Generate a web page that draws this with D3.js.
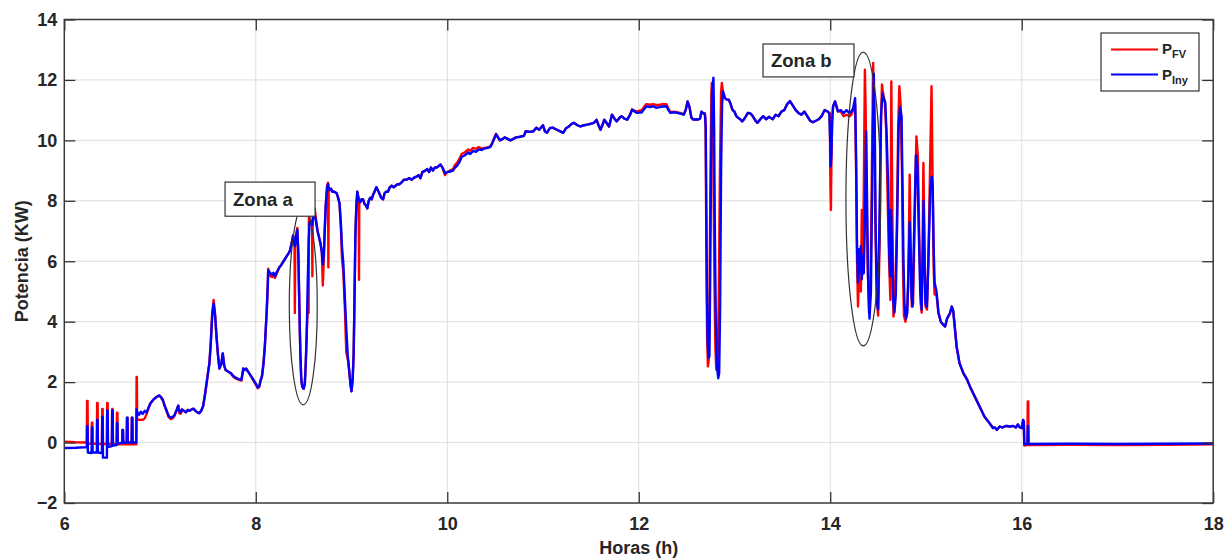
<!DOCTYPE html>
<html>
<head>
<meta charset="utf-8">
<script src="https://cdn.jsdelivr.net/npm/d3@7"></script>
<style>
  html, body { margin: 0; padding: 0; background: #fff; }
  svg { display: block; }
  text { font-family: "Liberation Sans", Arial, Helvetica, sans-serif; font-weight: bold; fill: #262626; }
</style>
</head>
<body>
<svg id="chart" width="1231" height="559"></svg>
<script>
// Axis ticks
const ticksX = [6, 8, 10, 12, 14, 16, 18];
const ticksY = [-2, 0, 2, 4, 6, 8, 10, 12, 14];

// Injected power, [hour, kW]
const pIny = [
  [6.00,-0.18],[6.12,-0.17],[6.235,-0.15],[6.238,0.55],[6.243,0.55],[6.246,-0.33],[6.285,-0.35],[6.288,0.5],[6.293,0.5],[6.296,-0.32],
  [6.34,-0.33],[6.343,0.75],[6.348,0.75],[6.351,-0.33],[6.393,-0.35],[6.396,0.85],[6.401,0.85],[6.404,-0.5],[6.445,-0.5],[6.448,1.06],
  [6.453,1.06],[6.456,-0.15],[6.497,-0.12],[6.5,1.06],[6.505,1.06],[6.508,-0.1],[6.547,-0.08],[6.55,0.65],[6.555,0.65],[6.558,-0.04],
  [6.605,0.0],[6.608,0.42],[6.613,0.42],[6.616,0.0],[6.652,0.0],[6.655,0.82],[6.66,0.82],[6.663,0.0],[6.703,0.0],[6.706,0.82],
  [6.711,0.82],[6.714,0.0],[6.752,0.0],[6.755,1.1],
  [6.76,1.0],[6.78,0.92],[6.80,1.02],[6.82,0.95],[6.84,1.05],[6.86,1.0],[6.88,1.15],[6.90,1.3],[6.93,1.42],[6.96,1.5],
  [6.99,1.56],[7.01,1.5],[7.03,1.4],[7.05,1.2],[7.07,1.05],[7.09,0.88],[7.11,0.82],[7.13,0.85],[7.15,0.9],[7.17,1.05],
  [7.19,1.22],[7.20,1.05],[7.215,1.0],[7.23,1.1],[7.25,1.05],[7.27,1.0],[7.29,1.08],[7.31,1.05],[7.33,1.1],[7.35,1.12],
  [7.37,1.05],[7.39,1.0],[7.41,0.97],[7.43,1.05],[7.45,1.2],[7.47,1.6],[7.49,2.05],[7.505,2.4],[7.515,2.6],[7.53,3.3],
  [7.545,4.2],[7.56,4.6],[7.575,4.2],[7.59,3.5],[7.605,2.9],[7.62,2.45],[7.64,2.6],[7.655,2.95],[7.67,2.55],[7.685,2.4],
  [7.71,2.35],[7.74,2.3],[7.765,2.2],[7.79,2.15],[7.82,2.1],[7.85,2.08],[7.87,2.45],[7.885,2.4],[7.90,2.45],[7.92,2.35],
  [7.95,2.2],[7.975,2.08],[8.0,1.95],[8.02,1.82],[8.035,1.85],[8.05,2.05],[8.065,2.2],[8.08,2.6],[8.095,3.2],[8.105,3.8],
  [8.115,4.4],[8.125,5.2],[8.13,5.7],
  [8.14,5.65],[8.155,5.6],[8.17,5.55],[8.185,5.62],[8.2,5.5],[8.215,5.62],[8.23,5.7],[8.245,5.8],[8.26,5.85],[8.28,5.95],
  [8.30,6.05],[8.32,6.15],[8.34,6.25],[8.357,6.35],[8.375,6.6],[8.39,6.85],[8.40,6.6],[8.41,6.5],[8.42,6.8],[8.434,7.04],
  [8.445,6.2],[8.455,4.5],[8.465,3.0],[8.475,2.1],[8.485,1.85],[8.50,1.78],[8.512,1.95],[8.522,2.6],[8.532,3.6],[8.542,5.2],
  [8.552,6.6],[8.562,7.3],[8.575,7.25],[8.59,7.2],[8.60,7.5],[8.615,7.55],[8.63,7.3],[8.645,7.0],[8.66,6.8],[8.675,6.6],
  [8.69,6.3],[8.70,5.9],[8.71,6.2],[8.72,7.0],[8.73,7.8],[8.745,8.45],[8.755,8.55],[8.77,8.35],[8.785,8.4],[8.80,8.3],
  [8.82,8.3],[8.845,8.25],[8.86,8.1],[8.875,7.9],[8.89,7.2],[8.90,6.5],[8.915,5.9],[8.93,4.8],[8.945,3.8],[8.96,2.9],
  [8.975,2.4],[8.99,1.9],[9.0,1.7],[9.012,2.1],[9.022,2.9],[9.03,4.5],[9.04,6.8],[9.05,7.8],[9.06,8.3],[9.075,8.05],
  [9.09,7.95],[9.105,8.05],[9.12,8.05],[9.135,7.9],[9.15,7.85],[9.165,7.75],[9.18,8.0],[9.195,8.1],[9.21,8.05],[9.225,8.2],
  [9.24,8.3],[9.26,8.45],[9.275,8.35],[9.29,8.25],[9.31,8.1],[9.33,8.05],[9.345,8.25],[9.36,8.3],[9.38,8.3],[9.40,8.45],
  [9.42,8.5],[9.44,8.45],[9.46,8.5],[9.48,8.55],[9.50,8.55],
  [9.52,8.6],[9.55,8.7],[9.576,8.7],[9.60,8.75],[9.63,8.7],[9.66,8.78],[9.68,8.8],[9.70,8.85],[9.72,8.75],[9.74,8.95],
  [9.77,9.0],[9.79,9.05],[9.81,8.95],[9.83,9.1],[9.85,9.0],[9.87,9.1],[9.89,9.1],[9.91,9.15],[9.93,9.2],[9.95,9.1],
  [9.976,8.92],[10.0,8.95],[10.03,8.97],[10.06,9.0],[10.08,9.1],[10.1,9.15],[10.13,9.3],[10.15,9.45],[10.18,9.5],[10.2,9.55],
  [10.22,9.6],[10.24,9.55],[10.27,9.65],[10.3,9.62],[10.33,9.7],[10.36,9.68],[10.38,9.72],[10.42,9.75],[10.45,9.78],[10.47,9.9],
  [10.49,10.05],[10.51,10.2],[10.53,10.1],[10.55,10.0],[10.58,10.05],[10.6,10.1],[10.63,10.05],[10.66,10.0],[10.69,10.05],[10.72,10.1],
  [10.76,10.12],[10.8,10.15],[10.82,10.3],[10.86,10.28],[10.9,10.3],[10.93,10.42],[10.96,10.35],[11.0,10.5],[11.02,10.3],[11.04,10.25],
  [11.07,10.4],[11.1,10.42],[11.14,10.36],[11.18,10.3],[11.21,10.25],[11.24,10.4],[11.27,10.46],[11.3,10.55],[11.32,10.58],[11.36,10.5],
  [11.39,10.46],[11.43,10.5],[11.46,10.52],[11.5,10.55],[11.53,10.58],[11.56,10.68],[11.58,10.5],[11.6,10.35],[11.62,10.5],[11.64,10.68],
  [11.67,10.55],[11.69,10.46],[11.72,10.85],[11.75,10.7],[11.77,10.63],[11.8,10.75],[11.82,10.8],[11.85,10.72],[11.88,10.69],[11.91,10.85],
  [11.93,11.02],[11.96,10.95],[11.98,10.91],[12.01,10.92],[12.03,10.92],[12.06,11.05],[12.08,11.13],[12.12,11.1],[12.15,11.13],[12.18,11.08],
  [12.22,11.1],[12.25,11.12],[12.29,11.13],[12.31,11.0],[12.33,10.91],[12.37,10.93],[12.4,10.91],[12.44,10.88],[12.47,10.85],[12.49,11.0],
  [12.51,11.29],[12.53,11.1],[12.55,10.75],[12.57,10.69],[12.6,10.7],[12.62,10.69],[12.64,10.72],[12.655,10.95],[12.67,10.9],[12.69,10.88],
  [12.70,10.4],[12.705,8.0],[12.712,5.0],[12.72,3.3],[12.73,2.8],[12.738,2.85],[12.745,5.0],[12.755,9.0],[12.765,11.5],[12.775,11.9],
  [12.78,12.07],[12.787,10.5],[12.795,7.0],[12.805,4.0],[12.815,2.6],[12.83,2.13],[12.84,2.3],[12.85,4.5],[12.86,9.0],[12.87,11.2],
  [12.88,11.62],[12.9,11.4],[12.92,11.35],[12.94,11.35],[12.96,11.2],[12.98,11.0],[13.0,10.95],[13.02,10.8],[13.04,10.74],[13.06,10.7],
  [13.08,10.63],[13.1,10.7],[13.12,10.8],[13.14,10.91],[13.16,10.9],[13.18,10.85],[13.2,10.75],[13.22,10.65],[13.24,10.58],
  [13.27,10.7],[13.3,10.8],[13.33,10.7],[13.36,10.78],[13.4,10.7],[13.43,10.85],[13.46,10.8],[13.49,10.95],[13.52,11.0],[13.55,11.2],
  [13.58,11.3],[13.61,11.15],[13.64,11.0],[13.67,10.9],[13.7,10.85],[13.73,10.95],[13.76,10.8],[13.79,10.65],[13.82,10.6],[13.85,10.65],
  [13.88,10.7],[13.91,10.8],[13.94,11.0],[13.97,10.96],[13.99,10.9],[14.0,10.0],[14.005,9.14],[14.012,9.5],[14.02,10.6],[14.03,11.13],
  [14.05,11.29],[14.08,10.96],[14.11,11.0],[14.14,10.9],[14.17,11.0],[14.2,10.9],[14.22,10.95],[14.24,11.07],[14.26,11.4],
  [14.27,9.5],[14.28,6.5],[14.29,5.3],[14.30,6.4],[14.31,5.6],[14.32,6.5],[14.33,5.4],[14.34,6.2],[14.35,5.6],[14.36,7.0],
  [14.375,10.3],[14.385,8.0],[14.395,5.5],[14.41,4.1],[14.425,5.0],[14.44,9.0],[14.455,12.2],[14.465,10.5],[14.475,7.0],[14.49,4.6],
  [14.5,4.4],[14.515,7.5],[14.53,10.8],[14.545,11.55],[14.56,11.35],[14.575,11.25],[14.59,10.1],[14.605,8.5],[14.615,6.5],[14.625,5.5],
  [14.635,7.7],[14.645,6.5],[14.655,4.8],[14.67,4.3],[14.685,4.9],[14.70,7.5],[14.715,10.5],[14.73,11.1],[14.745,10.8],[14.755,8.5],
  [14.765,6.0],[14.775,4.6],[14.79,4.1],[14.805,4.3],[14.815,5.5],[14.83,7.3],[14.84,6.2],[14.85,4.8],[14.86,4.5],[14.875,6.8],
  [14.895,9.5],[14.91,9.2],[14.925,7.0],[14.94,5.0],[14.955,4.4],[14.965,6.0],[14.975,8.0],[14.985,6.0],[14.995,4.6],[15.01,4.5],
  [15.025,6.0],[15.045,8.4],[15.06,8.8],[15.07,8.5],[15.08,6.5],[15.09,5.3],[15.11,5.0],
  [15.13,4.3],[15.155,4.0],[15.18,3.9],[15.2,3.84],[15.22,4.1],[15.25,4.28],[15.27,4.5],[15.285,4.35],[15.3,3.85],[15.32,3.18],
  [15.35,2.63],[15.39,2.3],[15.43,2.08],[15.46,1.85],[15.51,1.52],[15.56,1.19],[15.61,0.86],[15.65,0.7],[15.70,0.48],[15.72,0.5],
  [15.74,0.42],[15.77,0.53],[15.8,0.5],[15.84,0.55],[15.88,0.53],[15.91,0.55],[15.94,0.5],[15.96,0.6],[15.98,0.5],[16.0,0.48],
  [16.015,0.75],[16.022,0.7],[16.027,-0.06],[16.06,-0.05],[16.063,0.55],[16.068,0.55],[16.071,-0.05],[16.5,-0.04],[17.0,-0.05],[17.5,-0.04],
  [18.0,-0.03]
];

// Photovoltaic power, [hour, kW]
const pFV = [
  [6.00,0.03],[6.12,0.01],[6.235,0.0],[6.238,1.38],[6.243,1.38],[6.246,-0.03],[6.285,-0.04],[6.288,0.66],[6.293,0.66],[6.296,-0.04],
  [6.34,-0.04],[6.343,1.31],[6.348,1.31],[6.351,-0.04],[6.393,-0.05],[6.396,1.11],[6.401,1.11],[6.404,-0.05],[6.445,-0.05],[6.448,1.31],
  [6.453,1.31],[6.456,-0.05],[6.497,-0.05],[6.5,1.11],[6.505,1.11],[6.508,-0.05],[6.547,-0.05],[6.55,0.99],[6.555,0.99],[6.558,-0.06],
  [6.605,-0.06],[6.608,0.42],[6.613,0.42],[6.616,-0.06],[6.652,-0.06],[6.655,0.82],[6.66,0.82],[6.663,-0.06],[6.703,-0.06],[6.706,0.82],
  [6.711,0.82],[6.714,-0.06],[6.752,-0.06],[6.755,2.17],[6.758,2.17],[6.761,0.75],[6.78,0.75],[6.80,0.76],[6.82,0.75],[6.84,0.8],
  [6.86,0.95],
  [6.88,1.15],[6.90,1.3],[6.93,1.42],[6.96,1.5],[6.99,1.56],[7.01,1.5],[7.03,1.4],[7.05,1.2],[7.07,1.02],[7.09,0.84],
  [7.11,0.78],[7.13,0.8],[7.15,0.88],[7.17,1.05],[7.19,1.22],[7.20,0.98],[7.215,0.95],[7.23,1.08],[7.25,1.05],[7.27,1.0],
  [7.29,1.08],[7.31,1.05],[7.33,1.1],[7.35,1.12],[7.37,1.05],[7.39,1.0],[7.41,0.97],[7.43,1.05],[7.45,1.2],[7.47,1.6],
  [7.49,2.05],[7.505,2.4],[7.515,2.6],[7.53,3.3],[7.545,4.3],[7.56,4.72],[7.575,4.25],[7.59,3.5],[7.605,2.9],[7.62,2.45],
  [7.64,2.6],[7.655,2.95],[7.67,2.55],[7.685,2.4],[7.71,2.35],[7.74,2.28],[7.765,2.18],[7.79,2.12],[7.82,2.08],[7.85,2.05],
  [7.87,2.45],[7.885,2.4],[7.90,2.45],[7.92,2.35],[7.95,2.2],[7.975,2.05],[8.0,1.92],[8.02,1.8],[8.035,1.85],[8.05,2.05],
  [8.065,2.2],[8.08,2.6],[8.095,3.2],[8.105,3.8],[8.115,4.4],[8.125,5.2],[8.13,5.75],
  [8.14,5.6],[8.155,5.5],[8.17,5.48],[8.185,5.55],[8.2,5.45],[8.215,5.55],[8.23,5.68],[8.245,5.78],[8.26,5.85],[8.28,5.95],
  [8.30,6.05],[8.32,6.15],[8.34,6.25],[8.357,6.35],[8.375,6.6],[8.39,6.85],[8.40,6.6],[8.405,6.55],[8.408,4.29],[8.412,6.5],
  [8.42,6.85],[8.434,7.1],[8.445,6.2],[8.455,4.5],[8.465,3.0],[8.475,2.1],[8.485,1.85],[8.50,1.78],[8.512,1.95],[8.522,2.6],
  [8.532,3.6],[8.542,4.4],[8.552,4.29],[8.555,7.5],[8.562,7.4],[8.575,7.3],[8.588,7.2],[8.591,5.5],[8.594,7.3],[8.60,7.6],
  [8.615,7.75],[8.63,7.35],[8.645,7.0],[8.66,6.8],[8.675,6.6],[8.69,6.3],[8.70,5.2],[8.71,6.0],[8.72,7.0],[8.73,7.8],
  [8.745,8.5],[8.755,8.6],[8.758,5.8],[8.762,8.4],[8.77,8.35],[8.785,8.4],[8.80,8.3],[8.82,8.3],[8.845,8.25],[8.86,8.1],
  [8.875,7.9],[8.89,7.0],[8.90,6.1],[8.915,5.6],[8.93,4.5],[8.945,3.0],[8.955,2.85],[8.965,2.7],[8.975,2.4],[8.99,1.9],
  [9.0,1.7],[9.012,2.1],[9.022,2.9],[9.03,4.5],[9.04,6.8],[9.05,7.8],[9.06,8.3],[9.075,8.05],[9.078,5.39],[9.081,8.0],
  [9.09,7.95],[9.105,8.05],[9.12,8.05],[9.135,7.9],[9.15,7.85],[9.165,7.75],[9.18,8.0],[9.195,8.1],[9.21,8.05],[9.225,8.2],
  [9.24,8.3],[9.26,8.45],[9.275,8.35],[9.29,8.25],[9.31,8.1],[9.33,8.05],[9.345,8.25],[9.36,8.3],[9.38,8.3],[9.40,8.45],
  [9.42,8.5],[9.44,8.45],[9.46,8.5],[9.48,8.55],[9.50,8.55],
  [9.52,8.6],[9.55,8.7],[9.576,8.7],[9.60,8.75],[9.63,8.7],[9.66,8.78],[9.68,8.8],[9.70,8.85],[9.72,8.75],[9.74,8.95],
  [9.77,9.0],[9.79,9.05],[9.81,8.95],[9.83,9.1],[9.85,9.0],[9.87,9.1],[9.89,9.1],[9.91,9.15],[9.93,9.2],[9.95,9.1],
  [9.976,8.85],[10.0,8.95],[10.03,9.0],[10.06,9.05],[10.08,9.18],[10.1,9.25],[10.13,9.4],[10.15,9.55],[10.18,9.6],[10.2,9.65],
  [10.22,9.7],[10.24,9.66],[10.27,9.75],[10.3,9.72],[10.33,9.78],[10.36,9.72],[10.38,9.74],[10.42,9.77],[10.45,9.8],[10.47,9.92],
  [10.49,10.08],[10.51,10.22],[10.53,10.1],[10.55,10.0],[10.58,10.05],[10.6,10.1],[10.63,10.05],[10.66,10.0],[10.69,10.05],[10.72,10.1],
  [10.76,10.12],[10.8,10.15],[10.82,10.3],[10.86,10.28],[10.9,10.3],[10.93,10.42],[10.96,10.35],[11.0,10.5],[11.02,10.3],[11.04,10.25],
  [11.07,10.4],[11.1,10.42],[11.14,10.36],[11.18,10.3],[11.21,10.25],[11.24,10.4],[11.27,10.46],[11.3,10.55],[11.32,10.58],[11.36,10.5],
  [11.39,10.46],[11.43,10.5],[11.46,10.52],[11.5,10.55],[11.53,10.58],[11.56,10.68],[11.58,10.5],[11.6,10.35],[11.62,10.5],[11.64,10.68],
  [11.67,10.55],[11.69,10.46],[11.72,10.85],[11.75,10.7],[11.77,10.63],[11.8,10.75],[11.82,10.8],[11.85,10.72],[11.88,10.69],[11.91,10.85],
  [11.93,11.02],[11.96,10.98],[11.98,10.95],[12.01,10.98],[12.03,11.0],[12.06,11.12],[12.08,11.2],[12.12,11.18],[12.15,11.2],[12.18,11.17],
  [12.22,11.18],[12.25,11.2],[12.29,11.2],[12.31,11.05],[12.33,10.93],[12.37,10.95],[12.4,10.93],[12.44,10.9],[12.47,10.87],[12.49,11.0],
  [12.51,11.29],[12.53,11.1],[12.55,10.75],[12.57,10.69],[12.6,10.7],[12.62,10.69],[12.64,10.72],[12.655,10.95],[12.67,10.9],[12.69,10.9],
  [12.697,10.7],[12.70,9.58],[12.706,6.5],[12.714,3.5],[12.722,2.52],[12.73,2.7],[12.738,4.5],[12.748,8.5],[12.758,11.5],[12.763,11.9],
  [12.772,11.6],[12.78,9.0],[12.79,5.5],[12.80,3.2],[12.81,2.41],[12.822,2.6],[12.835,4.5],[12.848,9.0],[12.86,11.6],[12.868,11.9],
  [12.88,11.6],[12.9,11.4],[12.92,11.35],[12.94,11.35],[12.96,11.2],[12.98,11.0],[13.0,10.95],[13.02,10.8],[13.04,10.74],[13.06,10.7],
  [13.08,10.63],[13.1,10.7],[13.12,10.8],[13.14,10.91],[13.16,10.9],[13.18,10.85],[13.2,10.75],[13.22,10.65],[13.24,10.58],
  [13.27,10.7],[13.3,10.8],[13.33,10.7],[13.36,10.78],[13.4,10.7],[13.43,10.85],[13.46,10.8],[13.49,10.95],[13.52,11.0],[13.55,11.2],
  [13.58,11.3],[13.61,11.15],[13.64,11.0],[13.67,10.9],[13.7,10.85],[13.73,10.95],[13.76,10.8],[13.79,10.65],[13.82,10.6],[13.85,10.65],
  [13.88,10.7],[13.91,10.8],[13.94,11.0],[13.97,10.96],[13.995,10.9],[14.002,8.5],[14.007,7.7],[14.013,9.5],[14.02,10.7],[14.03,11.13],
  [14.05,11.29],[14.08,10.96],[14.11,10.95],[14.14,10.8],[14.17,10.85],[14.2,10.8],[14.22,10.85],[14.24,11.0],
  [14.26,11.2],[14.27,9.0],[14.28,6.0],[14.29,4.5],[14.30,5.5],[14.31,5.8],[14.32,5.0],[14.33,7.7],[14.34,5.6],[14.35,8.26],
  [14.362,12.34],[14.37,11.0],[14.38,8.0],[14.39,6.0],[14.405,4.3],[14.42,5.0],[14.435,9.0],[14.448,12.56],[14.458,11.0],[14.47,7.5],
  [14.485,4.8],[14.50,4.2],[14.515,6.5],[14.53,10.5],[14.54,11.85],[14.555,11.5],[14.57,11.3],[14.585,10.3],[14.6,8.0],[14.615,6.0],
  [14.628,4.72],[14.638,11.95],[14.648,8.0],[14.66,4.17],[14.675,4.5],[14.695,7.0],[14.71,10.5],[14.722,11.79],[14.735,11.2],[14.75,8.8],
  [14.76,5.8],[14.77,4.2],[14.785,4.0],[14.80,4.3],[14.815,5.2],[14.83,8.86],[14.84,6.5],[14.852,4.5],[14.865,4.6],[14.88,7.0],
  [14.9,10.13],[14.915,9.5],[14.93,6.8],[14.945,4.6],[14.955,4.3],[14.965,6.5],[14.973,9.25],[14.985,6.5],[14.995,4.5],[15.01,4.4],
  [15.025,6.0],[15.045,9.5],[15.058,11.79],[15.068,9.0],[15.08,5.8],[15.09,4.9],[15.11,4.9],
  [15.13,4.3],[15.155,4.0],[15.18,3.9],[15.2,3.84],[15.22,4.1],[15.25,4.28],[15.27,4.5],[15.285,4.35],[15.3,3.85],[15.32,3.18],
  [15.35,2.63],[15.39,2.3],[15.43,2.08],[15.46,1.85],[15.51,1.52],[15.56,1.19],[15.61,0.86],[15.65,0.7],[15.70,0.48],[15.72,0.5],
  [15.74,0.42],[15.77,0.53],[15.8,0.5],[15.84,0.55],[15.88,0.53],[15.91,0.55],[15.94,0.5],[15.96,0.6],[15.98,0.5],[16.0,0.48],
  [16.015,0.75],[16.022,0.7],[16.027,-0.1],[16.06,-0.08],[16.063,1.36],[16.068,1.36],[16.071,-0.08],[16.5,-0.07],[17.0,-0.08],[17.5,-0.07],
  [18.0,-0.06]
];

// Series styling and legend labels
const series = [
  { datos: pFV,  color: "#ff0000", sub: "FV" },
  { datos: pIny, color: "#0000ff", sub: "Iny" }
];

// Annotated zones (data units)
const zonas = [
  { texto: "Zona a", caja: [7.679, 8.619, 8.62, 7.49], elipse: [8.496, 4.53, 0.146, 3.28] },
  { texto: "Zona b", caja: [13.298, 14.248, 13.19, 12.10], elipse: [14.345, 8.06, 0.181, 4.86] }
];

const svg = d3.select("#chart");
const plot = { left: 64.3, right: 1213.2, top: 19.5, bottom: 503 };

const x = d3.scaleLinear().domain([6, 18]).range([plot.left, plot.right]);
const y = d3.scaleLinear().domain([-2, 14]).range([plot.bottom, plot.top]);

// Grid
const grid = svg.append("g").attr("stroke", "#dedede").attr("stroke-width", 1);
grid.selectAll("line.gx").data(ticksX.slice(1, -1)).join("line")
  .attr("x1", d => x(d)).attr("x2", d => x(d))
  .attr("y1", plot.top).attr("y2", plot.bottom);
grid.selectAll("line.gy").data(ticksY.slice(1, -1)).join("line")
  .attr("y1", d => y(d)).attr("y2", d => y(d))
  .attr("x1", plot.left).attr("x2", plot.right);

// Clip for the traces
svg.append("clipPath").attr("id", "area")
  .append("rect")
  .attr("x", plot.left).attr("y", plot.top)
  .attr("width", plot.right - plot.left).attr("height", plot.bottom - plot.top);

const linea = d3.line().x(d => x(d[0])).y(d => y(d[1]));
svg.append("g").attr("clip-path", "url(#area)")
  .selectAll("path").data(series).join("path")
  .attr("d", d => linea(d.datos))
  .attr("fill", "none")
  .attr("stroke", d => d.color)
  .attr("stroke-width", 2.4)
  .attr("stroke-linejoin", "round");

// Axes with inward ticks
const tickLen = 11;
const fs = 18;
const ejeX = svg.append("g").attr("transform", `translate(0,${plot.bottom})`)
  .call(d3.axisBottom(x).tickValues(ticksX).tickSize(-tickLen).tickPadding(14).tickFormat(d3.format("d")));
const ejeY = svg.append("g").attr("transform", `translate(${plot.left},0)`)
  .call(d3.axisLeft(y).tickValues(ticksY).tickSize(-tickLen).tickPadding(7).tickFormat(d3.format("d")));
const ejeXt = svg.append("g").attr("transform", `translate(0,${plot.top})`)
  .call(d3.axisTop(x).tickValues(ticksX).tickSize(-tickLen).tickFormat(""));
const ejeYr = svg.append("g").attr("transform", `translate(${plot.right},0)`)
  .call(d3.axisRight(y).tickValues(ticksY).tickSize(-tickLen).tickFormat(""));

[ejeX, ejeY, ejeXt, ejeYr].forEach(g => {
  g.select(".domain").remove();
  g.selectAll(".tick line").attr("stroke", "#333").attr("stroke-width", 1.3);
  g.selectAll(".tick text")
    .attr("font-family", "Liberation Sans, Arial, sans-serif")
    .attr("font-weight", "bold")
    .attr("font-size", fs)
    .attr("fill", "#262626");
});

svg.append("rect")
  .attr("x", plot.left).attr("y", plot.top)
  .attr("width", plot.right - plot.left).attr("height", plot.bottom - plot.top)
  .attr("fill", "none").attr("stroke", "#3a3a3a").attr("stroke-width", 1.5);

// Axis titles
svg.append("text")
  .attr("x", (plot.left + plot.right) / 2).attr("y", 554)
  .attr("text-anchor", "middle").attr("font-size", fs)
  .text("Horas (h)");
svg.append("text")
  .attr("transform", `translate(28,${(plot.top + plot.bottom) / 2}) rotate(-90)`)
  .attr("text-anchor", "middle").attr("font-size", fs)
  .text("Potencia (KW)");

// Zone annotations
const zg = svg.append("g");
zonas.forEach(z => {
  const [h0, h1, v0, v1] = z.caja;
  const [eh, ev, rh, rv] = z.elipse;
  zg.append("ellipse")
    .attr("cx", x(eh)).attr("cy", y(ev))
    .attr("rx", x(eh + rh) - x(eh)).attr("ry", y(ev) - y(ev + rv))
    .attr("fill", "none").attr("stroke", "#333").attr("stroke-width", 1.2);
  zg.append("rect")
    .attr("x", x(h0)).attr("y", y(v0))
    .attr("width", x(h1) - x(h0)).attr("height", y(v1) - y(v0))
    .attr("fill", "#fff").attr("stroke", "#333").attr("stroke-width", 1.2);
  zg.append("text")
    .attr("x", x(h0) + 8).attr("y", (y(v0) + y(v1)) / 2)
    .attr("dy", "0.36em").attr("font-size", 18.5)
    .attr("fill", "#111")
    .text(z.texto);
});

// Legend
const lg = svg.append("g");
lg.append("rect")
  .attr("x", 1101).attr("y", 33).attr("width", 98).attr("height", 58)
  .attr("fill", "#fff").attr("stroke", "#333").attr("stroke-width", 1.2);
series.forEach((s, i) => {
  const cy = 49.5 + i * 25;
  lg.append("line")
    .attr("x1", 1111).attr("x2", 1158).attr("y1", cy).attr("y2", cy)
    .attr("stroke", s.color).attr("stroke-width", 2);
  const t = lg.append("text").attr("x", 1162).attr("y", cy + 4 + i * 1.5).attr("font-size", 15);
  t.append("tspan").text("P");
  t.append("tspan").attr("dy", 4).attr("font-size", 11).text(s.sub);
});
</script>
</body>
</html>
